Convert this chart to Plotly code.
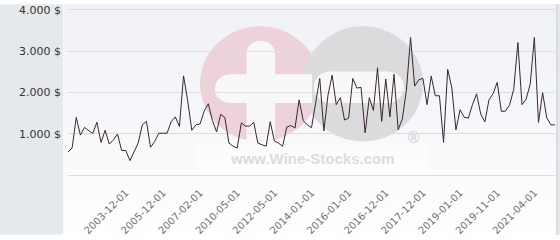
import plotly.graph_objects as go

dates = [
    "2002-10-01", "2002-11-01", "2002-12-01", "2003-01-01", "2003-02-01", "2003-03-01", "2003-04-01",
    "2003-05-01", "2003-06-01", "2003-07-01", "2003-08-01", "2003-09-01", "2003-10-01", "2003-11-01",
    "2003-12-01", "2004-03-01", "2004-06-01", "2004-09-01", "2004-12-01", "2005-03-01", "2005-05-01",
    "2005-07-01", "2005-10-01", "2005-12-01", "2006-02-01", "2006-04-01", "2006-06-01", "2006-08-01",
    "2006-09-01", "2006-10-01", "2006-11-01", "2006-12-01", "2007-02-01", "2007-06-01", "2007-10-01",
    "2008-03-01", "2008-07-01", "2008-12-01", "2009-04-01", "2009-08-01", "2009-12-01", "2010-05-01",
    "2010-08-01", "2010-11-01", "2011-02-01", "2011-04-01", "2011-07-01", "2011-10-01", "2012-01-01",
    "2012-03-01", "2012-05-01", "2012-07-01", "2012-09-01", "2012-11-01", "2013-01-01", "2013-04-01",
    "2013-06-01", "2013-08-01", "2013-11-01", "2014-01-01", "2014-03-01", "2014-06-01", "2014-09-01",
    "2014-12-01", "2015-03-01", "2015-05-01", "2015-08-01", "2015-10-01", "2016-01-01", "2016-02-01",
    "2016-03-01", "2016-04-01", "2016-05-01", "2016-07-01", "2016-08-01", "2016-09-01", "2016-11-01",
    "2016-12-01", "2017-01-01", "2017-02-01", "2017-04-01", "2017-05-01", "2017-06-01", "2017-08-01",
    "2017-09-01", "2017-10-01", "2017-12-01", "2018-01-01", "2018-02-01", "2018-04-01", "2018-05-01",
    "2018-06-01", "2018-08-01", "2018-09-01", "2018-11-01", "2019-01-01", "2019-02-01", "2019-03-01",
    "2019-04-01", "2019-05-01", "2019-06-01", "2019-07-01", "2019-08-01", "2019-10-01", "2019-11-01",
    "2020-01-01", "2020-03-01", "2020-05-01", "2020-07-01", "2020-09-01", "2020-11-01", "2021-01-01",
    "2021-02-01", "2021-04-01", "2021-06-01", "2021-08-01", "2021-10-01", "2021-12-01", "2022-02-01",
]

prices = [
    558, 658, 1395, 968, 1154, 1084, 1007, 1279, 791, 1084,
    751, 851, 991, 595, 595, 349, 581, 775, 1216, 1302,
    674, 814, 1014, 1014, 1014, 1293, 1409, 1177, 2403, 1800,
    1084, 1217, 1240, 1549, 1728, 1317, 1047, 1472, 1396, 775,
    698, 658, 1263, 1186, 1186, 1279, 775, 735, 698, 1293,
    828, 775, 698, 1163, 1200, 1140, 1821, 1317, 1217, 1147,
    1700, 2340, 1070, 1938, 2419, 1705, 1875, 1333, 1379, 2340,
    2107, 2124, 1023, 1875, 1565, 2596, 1302, 2326, 1409, 2442,
    1100, 1356, 2054, 3333, 2154, 2310, 2340, 1705, 2396, 1921,
    1921, 791, 2559, 2112, 1096, 1584, 1403, 1379, 1705, 1968,
    1479, 1286, 1821, 1972, 2247, 1542, 1549, 1700, 2077, 3210,
    1705, 1840, 2207, 3333, 1275, 1996, 1384, 1216, 1216,
]

x_tick_labels = [
    "2003-12-01", "2005-12-01", "2007-02-01", "2010-05-01", "2012-05-01", "2014-01-01",
    "2016-01-01", "2016-12-01", "2017-12-01", "2019-01-01", "2019-11-01", "2021-04-01",
]
y_tick_values = [0, 1000, 2000, 3000, 4000]
y_tick_labels = ["", "1.000 $", "2.000 $", "3.000 $", "4.000 $"]

W, H = 560, 240
ML, MR, MT, MB = 68, 5, 4, 60
PW = W - ML - MR
PH = H - MT - MB
Y_PAD = 46.5


def px(xp):
    return (xp - ML) / PW


def py(yp):
    return (H - MB - yp) / PH


shapes = []
# gradient background in the chart panel
n_bands = 24
for i in range(n_bands):
    t = i / (n_bands - 1)
    r = round(240 + (254 - 240) * t)
    g = round(241 + (254 - 241) * t)
    b = round(246 + (255 - 246) * t)
    y0p = H * i / n_bands
    y1p = H * (i + 1) / n_bands + 0.5
    shapes.append(dict(type="rect", xref="paper", yref="paper", x0=px(64), x1=px(557),
                       y0=py(y1p), y1=py(y0p), fillcolor=f"rgb({r},{g},{b})",
                       line=dict(width=0), layer="below"))
# left grey panel
shapes.append(dict(type="rect", xref="paper", yref="paper", x0=px(0), x1=px(63.3),
                   y0=py(H), y1=py(0), fillcolor="#e6e9ec", line=dict(width=0), layer="below"))
# right border
shapes.append(dict(type="rect", xref="paper", yref="paper", x0=px(556.5), x1=px(560),
                   y0=py(H), y1=py(0), fillcolor="#e6e9ec", line=dict(width=0), layer="below"))
shapes.append(dict(type="line", xref="paper", yref="paper", x0=px(557), x1=px(557),
                   y0=py(H), y1=py(0), line=dict(color="#c9cbce", width=1), layer="below"))
# watermark
shapes.append(dict(type="rect", xref="paper", yref="paper", x0=px(196), x1=px(430),
                   y0=py(177), y1=py(146), fillcolor="rgba(255,255,255,0.55)",
                   line=dict(width=0), layer="below"))
shapes.append(dict(type="circle", xref="paper", yref="paper", x0=px(200), x1=px(320),
                   y0=py(143), y1=py(23), fillcolor="#edd2d9", line=dict(width=0), layer="below"))
shapes.append(dict(type="circle", xref="paper", yref="paper", x0=px(303), x1=px(423),
                   y0=py(143), y1=py(23), fillcolor="#dbdbde", line=dict(width=0), layer="below"))
white = "#f8f8fa"
# cross on pink circle
shapes.append(dict(type="rect", xref="paper", yref="paper", x0=px(246.5), x1=px(275),
                   y0=py(143), y1=py(52), fillcolor=white, line=dict(width=0), layer="below"))
shapes.append(dict(type="circle", xref="paper", yref="paper", x0=px(246.5), x1=px(275),
                   y0=py(66), y1=py(38), fillcolor=white, line=dict(width=0), layer="below"))
shapes.append(dict(type="rect", xref="paper", yref="paper", x0=px(230), x1=px(312),
                   y0=py(103), y1=py(73), fillcolor=white, line=dict(width=0), layer="below"))
shapes.append(dict(type="circle", xref="paper", yref="paper", x0=px(215), x1=px(245),
                   y0=py(103), y1=py(73), fillcolor=white, line=dict(width=0), layer="below"))
# bar on grey circle
shapes.append(dict(type="rect", xref="paper", yref="paper", x0=px(330), x1=px(388),
                   y0=py(103), y1=py(70), fillcolor=white, line=dict(width=0), layer="below"))
shapes.append(dict(type="circle", xref="paper", yref="paper", x0=px(314), x1=px(347),
                   y0=py(103), y1=py(70), fillcolor=white, line=dict(width=0), layer="below"))
shapes.append(dict(type="circle", xref="paper", yref="paper", x0=px(371), x1=px(404),
                   y0=py(103), y1=py(70), fillcolor=white, line=dict(width=0), layer="below"))

annotations = [
    dict(text="<b>www.Wine-Stocks.com</b>", xref="paper", yref="paper", x=px(312), y=py(161),
         showarrow=False, font=dict(family="Liberation Sans", size=15, color="#dcdcde"),
         xanchor="center", yanchor="middle"),
    dict(text="®", xref="paper", yref="paper", x=px(413), y=py(139),
         showarrow=False, font=dict(family="DejaVu Sans", size=15, color="#d4d4d6"),
         xanchor="center", yanchor="middle"),
]

fig = go.Figure()
fig.add_trace(go.Scatter(
    x=dates, y=prices, mode="lines",
    line=dict(color="#3a2630", width=1),
    hoverinfo="x+y",
))

fig.update_layout(
    width=W, height=H,
    margin=dict(l=ML, r=MR, t=MT, b=MB, pad=0),
    paper_bgcolor="white",
    plot_bgcolor="rgba(0,0,0,0)",
    showlegend=False,
    shapes=shapes,
    annotations=annotations,
    font=dict(family="DejaVu Sans"),
    xaxis=dict(
        type="category",
        range=[0, len(dates) - 1],
        tickmode="array",
        tickvals=x_tick_labels,
        ticktext=x_tick_labels,
        tickangle=-45,
        tickfont=dict(size=10, color="#707070"),
        showgrid=False,
        showline=False,
        zeroline=False,
        ticks="",
        ticklabelstandoff=7,
    ),
    yaxis=dict(
        range=[-Y_PAD, 4000 + Y_PAD],
        tickmode="array",
        tickvals=y_tick_values,
        ticktext=y_tick_labels,
        tickfont=dict(size=11, color="#333333"),
        showgrid=True,
        gridcolor="#dcdde1",
        gridwidth=1,
        zeroline=False,
        showline=False,
        ticks="",
        ticklabelstandoff=6,
        ticklabeloverflow="allow",
    ),
)

fig.write_html("out.html")
